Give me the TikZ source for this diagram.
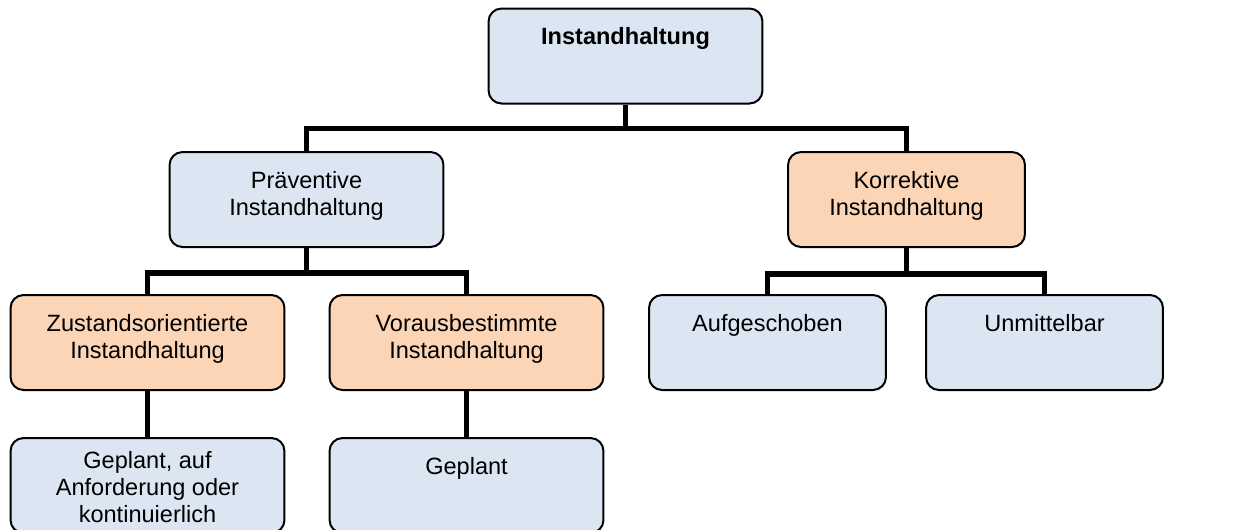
\documentclass[tikz,border=0pt]{standalone}
\usepackage{fontspec}
\setmainfont{Liberation Sans}

\definecolor{boxblue}{HTML}{DCE6F2}
\definecolor{boxorange}{HTML}{FBD5B5}

\begin{document}
\begin{tikzpicture}[x=.02cm, y=-.02cm,
    box/.style={draw, line width=.4mm, rounded corners=2.6mm,
        minimum height=1.9cm, inner sep=0},
    wide/.style={box, minimum width=5.48cm},
    narrow/.style={box, minimum width=4.74cm},
    plain/.style={fill=boxblue},
    kind/.style={fill=boxorange},
    boxtext/.style={anchor=north, yshift=-.4cm, inner sep=0, align=center,
        font=\fontsize{13.4}{15.4}\selectfont},
    link/.style={line width=1.1mm},
]
    \useasboundingbox (0, 0) rectangle (1239, 529);

    %% the boxes, row by row
    \node[wide, plain] (top) at (625.5, 56) {};
    \node[wide, plain] (prae) at (306.5, 199.5) {};
    \node[narrow, kind] (korr) at (906.5, 199.5) {};
    \node[wide, kind] (zust) at (147.5, 342.5) {};
    \node[wide, kind] (vora) at (466.5, 342.5) {};
    \node[narrow, plain] (aufg) at (767.5, 342.5) {};
    \node[narrow, plain] (unmi) at (1044.5, 342.5) {};
    \node[wide, plain] (plan-z) at (147.5, 485.5) {};
    \node[wide, plain] (plan-v) at (466.5, 485.5) {};

    %% texts sit near the top edge of each box
    \foreach \name/\txt in {top/{\textbf{Instandhaltung}},
            prae/{Präventive\\Instandhaltung},
            korr/{Korrektive\\Instandhaltung},
            zust/{Zustandsorientierte\\Instandhaltung},
            vora/{Vorausbestimmte\\Instandhaltung},
            aufg/Aufgeschoben, unmi/Unmittelbar, plan-v/Geplant}{
        \node[boxtext] (\name-text) at (\name.north) {\txt};
    }
    % three lines, so a bit higher up
    \node[boxtext, yshift=.12cm] (plan-z-text) at (plan-z.north)
        {Geplant, auf\\Anforderung oder\\kontinuierlich};

    %% the tree lines
    \draw[link] (top.south) -- ++(0, 24) coordinate (j-top) -| (prae.north);
    \draw[link] (j-top) -| (korr.north);
    \draw[link] (prae.south) -- ++(0, 25) coordinate (j-prae) -| (zust.north);
    \draw[link] (j-prae) -| (vora.north);
    \draw[link] (korr.south) -- ++(0, 26) coordinate (j-korr) -| (aufg.north);
    \draw[link] (j-korr) -| (unmi.north);
    \draw[link] (zust.south) -- (plan-z.north);
    \draw[link] (vora.south) -- (plan-v.north);
\end{tikzpicture}
\end{document}
